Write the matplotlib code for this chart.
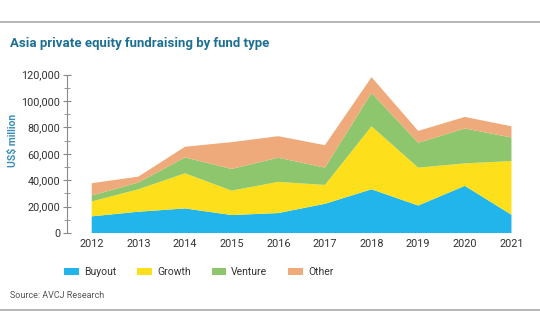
import numpy as np
import matplotlib.pyplot as plt
from matplotlib.lines import Line2D

plt.rcParams['font.family'] = ['Roboto', 'DejaVu Sans']

years = [2012, 2013, 2014, 2015, 2016, 2017, 2018, 2019, 2020, 2021]
buyout = [12600, 16100, 18600, 13600, 15100, 22100, 33100, 20800, 35700, 13800]
growth = [11300, 17000, 26600, 18500, 23600, 14300, 47700, 28700, 17000, 40700]
venture = [4500, 5100, 12000, 16400, 18300, 13100, 25200, 18800, 26400, 17800]
other = [9300, 4500, 8100, 20300, 16300, 17000, 12000, 9000, 8800, 8500]

labels = ["Buyout", "Growth", "Venture", "Other"]
colors = ["#22b5eb", "#fddf1b", "#8dc66c", "#efaa7c"]
teal = "#1d6f93"

fig = plt.figure(figsize=(5.4, 3.34), dpi=100)
ax = fig.add_axes([67 / 540, 1 - 233 / 334, 458 / 540, 158.5 / 334])

ax.stackplot(years, buyout, growth, venture, other, colors=colors, labels=labels, linewidth=0)

ax.set_xlim(2011.47, 2021.29)
ax.set_ylim(0, 120000)
ax.set_xticks(years)
ax.set_yticks(np.arange(0, 120001, 20000))
ax.set_yticks(np.arange(10000, 120000, 20000), minor=True)
ax.set_yticklabels([f"{v:,}" for v in range(0, 120001, 20000)])

for s in ["top", "right", "bottom"]:
    ax.spines[s].set_visible(False)
ax.spines["left"].set_color("#8a8a8a")
ax.spines["left"].set_linewidth(0.8)
ax.tick_params(axis="y", which="both", direction="inout", color="#8a8a8a",
               labelsize=7.8, labelcolor="#333333", pad=2)
ax.tick_params(axis="y", which="major", length=6)
ax.tick_params(axis="y", which="minor", length=4)
ax.tick_params(axis="x", length=0, labelsize=7.8, labelcolor="#333333", pad=4)

fig.text(10 / 540, 1 - 43 / 334, "Asia private equity fundraising by fund type",
         fontsize=9.5, color=teal, fontweight="bold", va="center", ha="left")
fig.text(13 / 540, 1 - 140 / 334, "US$ million", rotation=90, fontsize=7.5,
         color="#3a8fb8", fontweight="bold", va="center", ha="center")

fig.legend(loc="center left", bbox_to_anchor=(55 / 540, 1 - 272 / 334), ncol=4,
           frameon=False, fontsize=7.5, handlelength=1.4, handleheight=0.6,
           columnspacing=2.0, handletextpad=0.5, labelcolor="#333333")

fig.text(10 / 540, 1 - 296 / 334, "Source: AVCJ Research", fontsize=6.5,
         color="#555555", va="center", ha="left")

fig.add_artist(Line2D([0, 1], [1 - 21.5 / 334] * 2, color="#aaaaaa", linewidth=1.2))
fig.add_artist(Line2D([0, 1], [1 - 310 / 334] * 2, color="#aaaaaa", linewidth=1.2))

fig.savefig("out.png", dpi=100)
